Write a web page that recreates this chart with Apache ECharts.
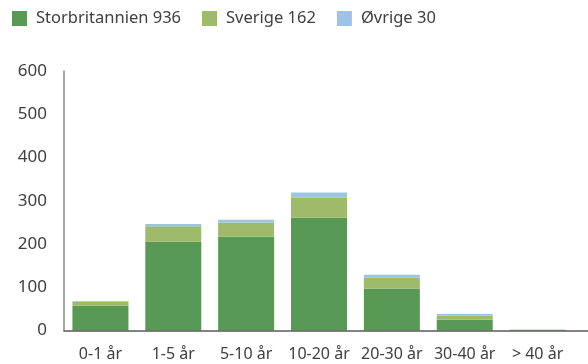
<!DOCTYPE html>
<html>
<head>
<meta charset="utf-8">
<script src="https://cdn.jsdelivr.net/npm/echarts@6/dist/echarts.min.js"></script>
<style>
  html, body { margin: 0; padding: 0; background: #ffffff; }
  #chart { width: 588px; height: 364px; }
</style>
</head>
<body>
<div id="chart"></div>
<script>
// Number of units per age band, split by country
const categories = ['0-1 år', '1-5 år', '5-10 år', '10-20 år', '20-30 år', '30-40 år', '> 40 år'];
const seriesNames = ['Storbritannien 936', 'Sverige 162', 'Øvrige 30'];
const storbritannien = [57, 206, 217, 261, 97, 25, 2];
const sverige = [10, 35, 33, 46, 25, 9, 0];
const ovrige = [1, 5, 6, 12, 7, 4, 0];
const yTicks = { min: 0, max: 600, interval: 100 };

const colors = ['#589a55', '#9dbb6a', '#9dc3e6'];
const textColor = '#404040';
const fontFamily = '"Noto Sans", "Open Sans", sans-serif';

const chart = echarts.init(document.getElementById('chart'), null, { renderer: 'canvas' });

function barSeries(name, data, color) {
  return {
    name: name,
    type: 'bar',
    stack: 'total',
    data: data,
    barWidth: 56,
    itemStyle: { color: color },
    emphasis: { disabled: true }
  };
}

chart.setOption({
  animation: false,
  color: colors,
  textStyle: { fontFamily: fontFamily },
  legend: {
    left: 7,
    top: 5,
    itemWidth: 15,
    itemHeight: 15,
    itemGap: 21,
    icon: 'rect',
    textStyle: { fontSize: 16.5, color: textColor, fontFamily: fontFamily, padding: [0, 0, 0, 4] },
    data: seriesNames
  },
  grid: [
    { left: 64, right: 14, top: 71, bottom: 33.5, containLabel: false },
    { left: 64, right: 0, top: 71, bottom: 33.5, containLabel: false }
  ],
  xAxis: [
    {
      type: 'category',
      gridIndex: 0,
      data: categories,
      axisLine: { show: false },
      axisTick: { show: false },
      axisLabel: { color: textColor, fontSize: 16, margin: 16, fontFamily: fontFamily, interval: 0 }
    },
    {
      type: 'value',
      gridIndex: 1,
      min: 0,
      max: 1,
      z: 5,
      axisLine: { show: true, onZero: false, lineStyle: { color: '#595959', width: 1.5 } },
      axisTick: { show: false },
      axisLabel: { show: false },
      splitLine: { show: false }
    }
  ],
  yAxis: [
    {
      type: 'value',
      gridIndex: 0,
      min: yTicks.min,
      max: yTicks.max,
      interval: yTicks.interval,
      axisLine: { show: true, lineStyle: { color: '#8c8c8c', width: 1.5 } },
      axisTick: { show: false },
      splitLine: { show: false },
      axisLabel: { color: textColor, fontSize: 17, margin: 17, fontFamily: fontFamily }
    },
    {
      type: 'value',
      gridIndex: 1,
      min: 0,
      max: 1,
      show: false
    }
  ],
  series: [
    barSeries(seriesNames[0], storbritannien, colors[0]),
    barSeries(seriesNames[1], sverige, colors[1]),
    barSeries(seriesNames[2], ovrige, colors[2])
  ]
});
</script>
</body>
</html>
